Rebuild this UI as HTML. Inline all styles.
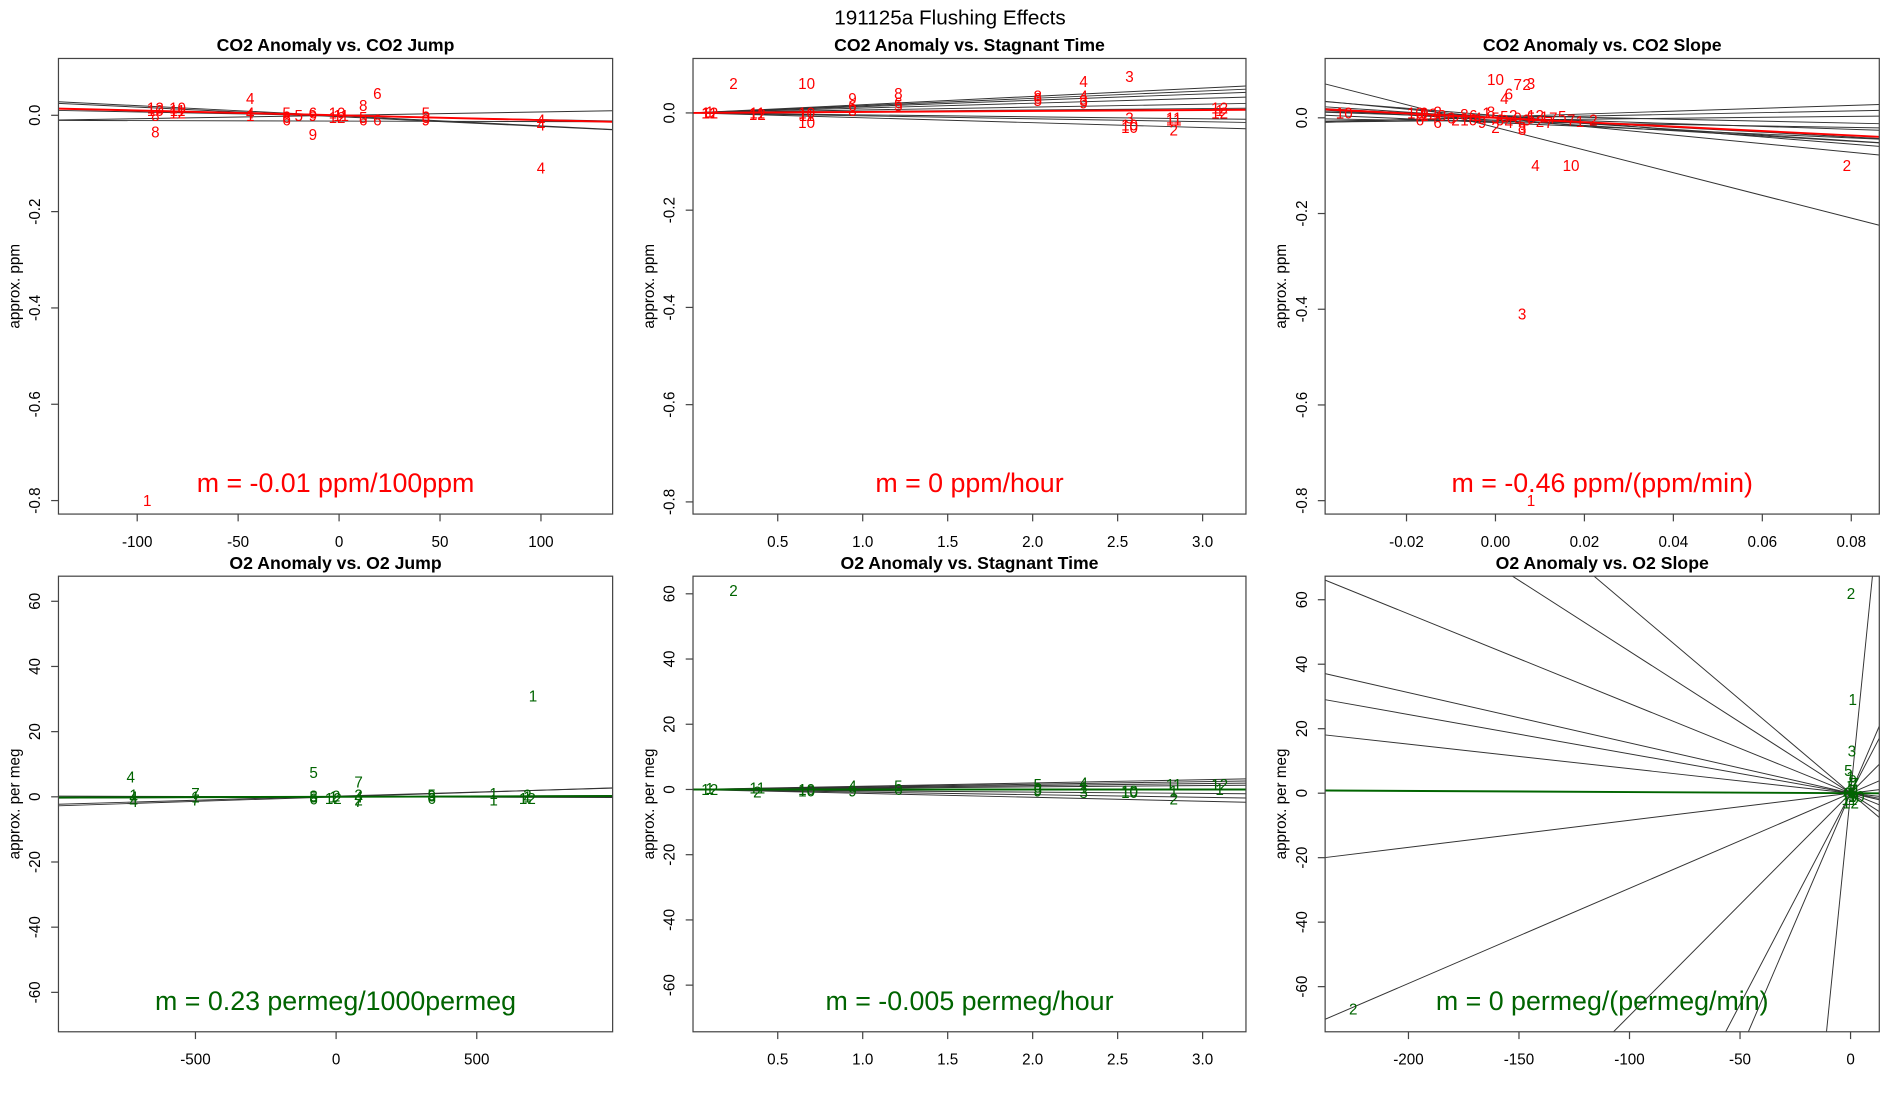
<!DOCTYPE html>
<html><head><meta charset="utf-8"><style>
html,body{margin:0;padding:0;background:#fff;width:1900px;height:1100px;overflow:hidden;}
svg{display:block;font-family:"Liberation Sans",Arial,sans-serif;}
</style></head><body>
<svg id="chart" width="1900" height="1100" viewBox="0 0 1560 903" preserveAspectRatio="none" xmlns="http://www.w3.org/2000/svg">
<text x="780" y="20" text-anchor="middle" font-size="17">191125a   Flushing Effects</text>
</svg>
<script>
// ---------- data ----------
const tlX = [-91,-91,-91,-91,-80,-80,-80,-44,-44,-44,-26,-26,-26,-20,-13,-13,-13,-1,-1,1,12,12,12,19,19,43,43,43,100,100,100,-95];
const tlY = [0.01,0,-0.035,0.015,0.015,0.005,0.01,0.035,0.005,0,-0.005,-0.01,0.005,0,0,-0.04,0.005,0.005,-0.005,0,0.02,-0.005,-0.01,0.045,-0.01,0.005,-0.01,-0.005,-0.01,-0.02,-0.11,-0.8];
const tlLab = [10,8,8,12,10,12,11,4,4,1,6,6,5,5,9,9,6,10,12,11,8,5,6,6,6,5,9,3,4,4,4,1];
const tlSlopes = [-0.00021,-0.0002,0.00007,-0.00008,-0.00001];
const tlInts = [-0.001,-0.003,0,-0.001,-0.012];
const tlFit = -0.0001;

const tmX = [0.1,0.1,0.1,0.38,0.38,0.67,0.67,0.67,0.94,0.94,0.94,1.21,1.21,1.21,2.03,2.03,2.03,2.3,2.3,2.3,2.3,2.57,2.57,2.57,2.83,2.83,2.83,3.1,3.1,3.1,0.24,0.67,2.57];
const tmY = [0,0,0.002,-0.003,0,0,-0.02,-0.005,0.005,0.015,0.03,0.015,0.02,0.04,0.025,0.03,0.035,0.025,0.035,0.02,0.065,-0.01,-0.025,-0.03,-0.01,-0.015,-0.035,0.01,0.005,0,0.06,0.06,0.075];
const tmLab = [12,11,1,12,11,10,10,11,3,6,9,5,6,8,5,6,8,3,4,9,4,3,10,10,11,11,2,12,1,12,2,10,3];
const tmSlopes = [0.017,0.015,0.013,0.01,0.006,0.003,-0.004,-0.006,-0.01];
const tmInts = [0,0,0,0,0,0,0,0,0];
const tmFit = 0.002;

const trX = [-0.034,-0.018,-0.017,-0.016,-0.015,-0.013,-0.012,-0.01,-0.009,-0.007,-0.006,-0.005,-0.004,-0.003,-0.002,-0.001,0,0.001,0.002,0.003,0.004,0.005,0.006,0.007,0.008,0.009,0.01,0.011,0.013,0.015,0.017,0.019,0.022,0.0,0.005,0.007,0.008,0.002,0.003,0.009,0.017,0.079,0.006,0.008,-0.016,-0.013,0.006,0.0,0.012];
const trY = [0.01,0.01,-0.005,0.005,0.008,-0.01,0.005,0.0,-0.005,0.007,-0.005,0.005,0,-0.01,0.01,0.012,0.0,-0.005,0.003,-0.01,0.005,0.0,-0.02,-0.005,0,0.005,-0.008,0.002,0,0.003,-0.005,-0.008,-0.005,0.08,0.07,0.07,0.072,0.04,0.05,-0.1,-0.1,-0.1,-0.41,-0.8,0.01,0.012,-0.025,-0.02,-0.01];
const trLab = [10,10,6,1,12,6,8,6,2,8,10,6,4,9,1,8,5,6,5,4,2,9,8,3,5,12,2,1,7,5,7,1,2,10,7,2,3,4,6,4,10,2,3,1,9,2,3,2,7];
const trSlopes = [-2.37,-0.9,-0.75,-0.6,-0.55,-0.5,-0.4,-0.3,-0.2,0.1,0.18,0.3,-0.15];
const trInts = [-0.02,0,0.005,0,-0.005,0.0,-0.01,0.0,0.005,-0.005,0,0.002,-0.008];
const trFit = -0.46;

const blX = [-720,-720,-720,-500,-500,-500,-80,-80,-80,-10,-10,0,80,80,80,80,340,340,340,560,560,680,680,680,-730,-80,80,700];
const blY = [0,-1.5,0.5,1,-1,0,0,-0.7,0.3,0,-0.5,0.2,0,-1,-1.5,0.5,0.5,-0.5,0.2,1,-1,0,-0.5,0.5,6,7.5,4.5,31];
const blLab = [4,4,1,7,7,1,5,6,3,1,12,2,4,2,7,3,5,6,3,1,1,1,12,2,4,5,7,1];
const blSlopes = [0.0028,0.0025,0.0004,-0.0002];
const blInts = [0,0.2,0,0];
const blFit = 0.00023;

const bmX = [0.1,0.1,0.38,0.38,0.67,0.67,0.94,0.94,1.21,1.21,2.03,2.03,2.03,2.3,2.3,2.3,2.57,2.57,2.83,2.83,2.83,3.1,3.1,0.24];
const bmY = [0,0.3,0.5,-0.8,0,-0.5,1,-0.5,1,0,1.5,0,-0.5,2,0.5,-1,-0.5,-1,1.5,-0.5,-3,1.5,0,61];
const bmLab = [12,1,11,2,10,10,4,9,5,6,5,3,9,4,1,3,10,10,11,1,2,12,1,2];
const bmSlopes = [1.0,0.8,0.6,0.4,-0.4,-0.8,-1.2];
const bmInts = [0,0,0,0,0,0,0];
const bmFit = -0.005;

const brX = [-225,0.2,1,0.6,-1,0,1,2,-1,0.5,1.5,2.5,-0.5,0,1,2,-1.5,0.5];
const brY = [-67,62,29,13,7,5,4,3,1,0,0,-1,-2,-3,-1,1,0,2];
const brLab = [2,2,1,3,5,1,9,7,4,6,8,10,11,12,3,4,6,5];
const brSlopes = [-0.278,-0.156,-0.122,-0.076,0.084,0.295,-0.44,-0.58,0.69,1.31,1.6,6.8];
const brInts = [0,0,0,0,0,0,0,0,0,0,0,0];
const brFit = -0.0035;

// ---------- drawing ----------
const NS = "http://www.w3.org/2000/svg";
const svg = document.getElementById("chart");
function el(tag, attrs, parent) {
  const e = document.createElementNS(NS, tag);
  for (const k in attrs) e.setAttribute(k, attrs[k]);
  (parent || svg).appendChild(e);
  return e;
}
function panel(cfg) {
  const [L, T, R, B] = cfg.box;
  const sx = v => L + (v - cfg.xlim[0]) / (cfg.xlim[1] - cfg.xlim[0]) * (R - L);
  const sy = v => B - (v - cfg.ylim[0]) / (cfg.ylim[1] - cfg.ylim[0]) * (B - T);
  const g = el("g", {});
  
  
  const cp = el("clipPath", {id: cfg.name + "-clip"}, g);
  el("rect", {x: L, y: T, width: R - L, height: B - T}, cp);
  const t = el("text", {x: (L + R) / 2, y: T - 6, "text-anchor": "middle", "font-size": 14.5, "font-weight": "bold"}, g);
  
  
  t.textContent = cfg.title;
  const yl = el("text", {x: 0, y: 0, transform: `translate(${L - 32},${(T + B) / 2}) rotate(-90)`, "text-anchor": "middle", "font-size": 12.5}, g);
  
  
  yl.textContent = cfg.ylabel;
  const lg = el("g", {"clip-path": `url(#${cfg.name}-clip)`}, g);
  const x0 = cfg.xlim[0], x1 = cfg.xlim[1];
  cfg.slopes.forEach((m, i) => {
    const b = cfg.ints[i];
    const ln = el("line", {x1: sx(x0), y1: sy(b + m * x0), x2: sx(x1), y2: sy(b + m * x1), stroke: "#333", "stroke-width": 0.8}, lg);
    
    
  });
  cfg.xs.forEach((xv, i) => {
    const p = el("text", {x: sx(xv), y: sy(cfg.ys[i]) + 4.5, "text-anchor": "middle", "font-size": 12.5, fill: cfg.color}, lg);
    
    
    p.textContent = cfg.labs[i];
  });
  const fl = el("line", {x1: sx(x0), y1: sy(cfg.fit * x0), x2: sx(x1), y2: sy(cfg.fit * x1), stroke: cfg.color, "stroke-width": 1.6}, lg);
  
  
  const bx = el("rect", {x: L, y: T, width: R - L, height: B - T, fill: "none", stroke: "#444", "stroke-width": 1}, g);
  
  
  cfg.xticks.forEach((v, i) => {
    const x = sx(v);
    el("line", {x1: x, y1: B, x2: x, y2: B + 6, stroke: "#444"}, g);
    const tl = el("text", {x: x, y: B + 27, "text-anchor": "middle", "font-size": 12.5}, g);
    
    
    tl.textContent = cfg.xtickLabels[i];
  });
  cfg.yticks.forEach((v, i) => {
    const y = sy(v);
    el("line", {x1: L, y1: y, x2: L - 6, y2: y, stroke: "#444"}, g);
    const tl = el("text", {x: 0, y: 0, transform: `translate(${L - 15},${y}) rotate(-90)`, "text-anchor": "middle", "font-size": 12.5}, g);
    
    
    tl.textContent = cfg.ytickLabels[i];
  });
  const ft = el("text", {x: (L + R) / 2, y: B - 18, "text-anchor": "middle", "font-size": 22, fill: cfg.color}, g);
  
  
  ft.textContent = cfg.note;
}
const RED = "#ff0000", GREEN = "#006400";
const yTop = [0, -0.2, -0.4, -0.6, -0.8], yTopL = ["0.0", "-0.2", "-0.4", "-0.6", "-0.8"];
const yBot = [60, 40, 20, 0, -20, -40, -60], yBotL = ["60", "40", "20", "0", "-20", "-40", "-60"];
const tTicks = [0.5, 1.0, 1.5, 2.0, 2.5, 3.0], tTickL = ["0.5", "1.0", "1.5", "2.0", "2.5", "3.0"];
panel({name: "co2-jump-panel", box: [48, 48, 503, 422], xlim: [-139, 135.5], ylim: [-0.828, 0.118], title: "CO2 Anomaly vs. CO2 Jump", ylabel: "approx. ppm", color: RED,
  xs: tlX, ys: tlY, labs: tlLab, slopes: tlSlopes, ints: tlInts, fit: tlFit,
  xticks: [-100, -50, 0, 50, 100], xtickLabels: ["-100", "-50", "0", "50", "100"], yticks: yTop, ytickLabels: yTopL, note: "m = -0.01 ppm/100ppm"});
panel({name: "co2-stagnant-panel", box: [569, 48, 1023, 422], xlim: [0.0015, 3.255], ylim: [-0.825, 0.112], title: "CO2 Anomaly vs. Stagnant Time", ylabel: "approx. ppm", color: RED,
  xs: tmX, ys: tmY, labs: tmLab, slopes: tmSlopes, ints: tmInts, fit: tmFit,
  xticks: tTicks, xtickLabels: tTickL, yticks: yTop, ytickLabels: yTopL, note: "m = 0 ppm/hour"});
panel({name: "co2-slope-panel", box: [1088, 48, 1543, 422], xlim: [-0.0383, 0.0863], ylim: [-0.828, 0.124], title: "CO2 Anomaly vs. CO2 Slope", ylabel: "approx. ppm", color: RED,
  xs: trX, ys: trY, labs: trLab, slopes: trSlopes, ints: trInts, fit: trFit,
  xticks: [-0.02, 0, 0.02, 0.04, 0.06, 0.08], xtickLabels: ["-0.02", "0.00", "0.02", "0.04", "0.06", "0.08"], yticks: yTop, ytickLabels: yTopL, note: "m = -0.46 ppm/(ppm/min)"});
panel({name: "o2-jump-panel", box: [48, 473, 503, 847], xlim: [-987, 983], ylim: [-72.1, 67.7], title: "O2 Anomaly vs. O2 Jump", ylabel: "approx. per meg", color: GREEN,
  xs: blX, ys: blY, labs: blLab, slopes: blSlopes, ints: blInts, fit: blFit,
  xticks: [-500, 0, 500], xtickLabels: ["-500", "0", "500"], yticks: yBot, ytickLabels: yBotL, note: "m = 0.23 permeg/1000permeg"});
panel({name: "o2-stagnant-panel", box: [569, 473, 1023, 847], xlim: [0.0015, 3.255], ylim: [-74.3, 65.4], title: "O2 Anomaly vs. Stagnant Time", ylabel: "approx. per meg", color: GREEN,
  xs: bmX, ys: bmY, labs: bmLab, slopes: bmSlopes, ints: bmInts, fit: bmFit,
  xticks: tTicks, xtickLabels: tTickL, yticks: yBot, ytickLabels: yBotL, note: "m = -0.005 permeg/hour"});
panel({name: "o2-slope-panel", box: [1088, 473, 1543, 847], xlim: [-237.7, 13], ylim: [-74, 67.3], title: "O2 Anomaly vs. O2 Slope", ylabel: "approx. per meg", color: GREEN,
  xs: brX, ys: brY, labs: brLab, slopes: brSlopes, ints: brInts, fit: brFit,
  xticks: [-200, -150, -100, -50, 0], xtickLabels: ["-200", "-150", "-100", "-50", "0"], yticks: yBot, ytickLabels: yBotL, note: "m = 0 permeg/(permeg/min)"});
</script>
</body></html>
